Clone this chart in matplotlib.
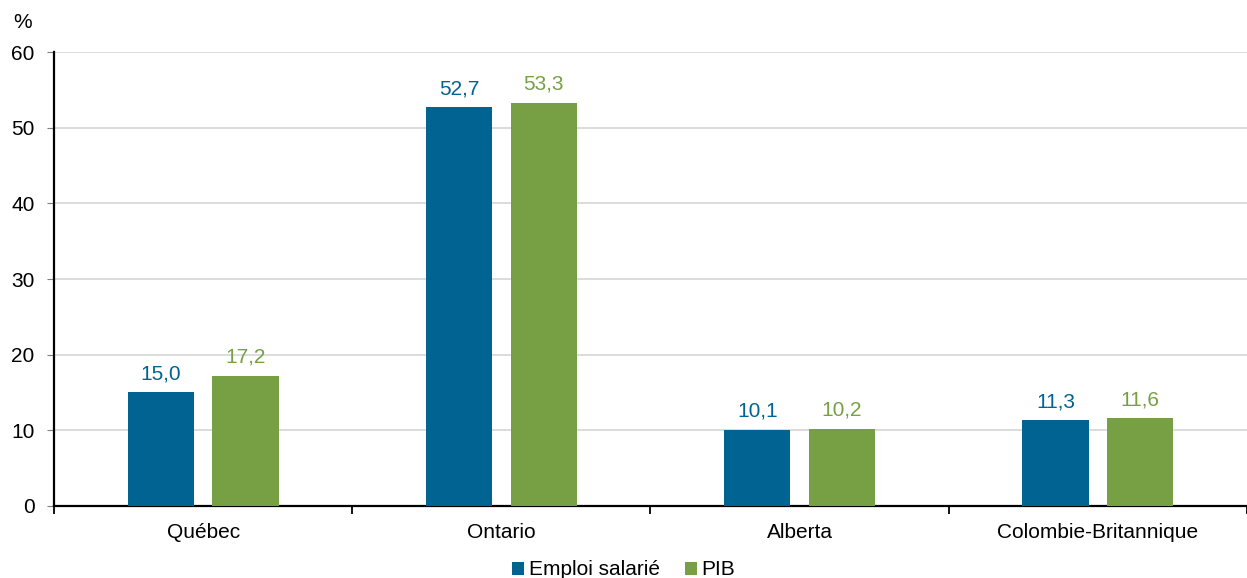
import numpy as np
import matplotlib
matplotlib.use('Agg')
import matplotlib.pyplot as plt

plt.rcParams['font.family'] = ['Liberation Sans', 'DejaVu Sans']

provinces = ['Québec', 'Ontario', 'Alberta', 'Colombie-Britannique']
emploi = [15.0, 52.7, 10.1, 11.3]
pib = [17.2, 53.3, 10.2, 11.6]

blue = '#006391'
green = '#77a045'
fs = 15

fig = plt.figure(figsize=(12.47, 5.78), dpi=100)
ax = fig.add_axes([0.0433, 0.1246, 0.9567, 0.7854])

x = np.arange(len(provinces))
w = 0.222
off = 0.142
b1 = ax.bar(x - off, emploi, w, color=blue, label='Emploi salarié', zorder=3)
b2 = ax.bar(x + off, pib, w, color=green, label='PIB', zorder=3)

for bars, vals, c in [(b1, emploi, blue), (b2, pib, green)]:
    for r, v in zip(bars, vals):
        ax.text(r.get_x() + r.get_width() / 2, v + 1.2, f'{v:.1f}'.replace('.', ','),
                ha='center', va='bottom', color=c, fontsize=fs)

ax.set_xlim(-0.5, 3.5)
ax.set_ylim(0, 60)
ax.set_yticks(range(0, 61, 10))
ax.yaxis.grid(True, color='#d9d9d9', linewidth=1.3, zorder=0)
ax.tick_params(axis='y', labelsize=fs, length=5, color='#7f7f7f', pad=9)

ax.set_xticks(np.arange(-0.5, 3.6, 1))
ax.set_xticklabels([])
ax.set_xticks(x, minor=True)
ax.set_xticklabels(provinces, minor=True)
ax.tick_params(axis='x', which='major', length=6, width=1.3, color='black', direction='out')
ax.tick_params(axis='x', which='minor', length=0, labelsize=fs, pad=12)

for s in ['top', 'right']:
    ax.spines[s].set_visible(False)
ax.spines['left'].set_linewidth(1.6)
ax.spines['bottom'].set_linewidth(1.6)

ax.text(-0.034, 1.045, '%', transform=ax.transAxes, fontsize=fs, ha='left', va='bottom')

fig.legend(loc='lower center', bbox_to_anchor=(0.5, -0.035), ncol=2, frameon=False,
           fontsize=fs, handlelength=0.6, handleheight=0.6, handletextpad=0.2, columnspacing=1.2)

fig.savefig('out.png', dpi=100)
